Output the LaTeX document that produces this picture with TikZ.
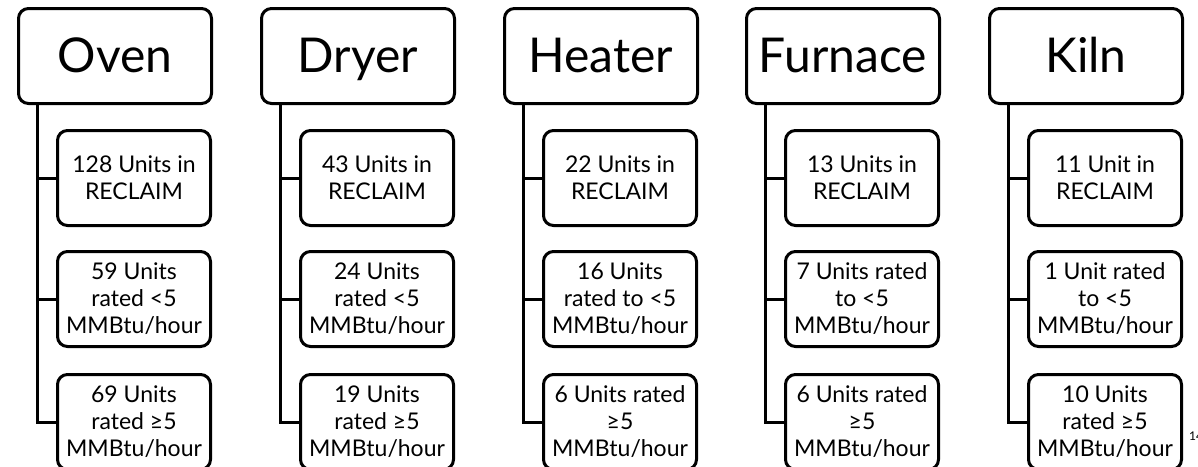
\documentclass[tikz,border=0pt]{standalone}
\usepackage{fontspec}
\setmainfont{Lato}
\tikzset{
  kind/.style={draw, line width=3pt, rounded corners=10pt, minimum width=193pt,
    minimum height=95pt, inner sep=0pt, text height=35pt, text depth=3pt,
    font=\fontsize{48}{54}\selectfont},
  count/.style={draw, line width=3pt, rounded corners=10pt, minimum width=153pt,
    minimum height=95pt, inner sep=0pt, align=center, font=\fontsize{23}{27}\selectfont},
  branch/.style={line width=3pt}
}
\begin{document}
\begin{tikzpicture}[x=1pt,y=-1pt]
  \useasboundingbox (0,0) rectangle (1198,466);
  % top row
  \node[kind] (oven)    at (115,56)  {Oven};
  \node[kind] (dryer)   at (358,56)  {Dryer};
  \node[kind] (heater)  at (601,56)  {Heater};
  \node[kind] (furnace) at (843,56)  {Furnace};
  \node[kind] (kiln)    at (1086,56) {Kiln};
  % oven
  \node[count] (oven1) at (134,178) {128 Units in\\RECLAIM};
  \node[count] (oven2) at (134,299) {59 Units\\rated <5\\MMBtu/hour};
  \node[count] (oven3) at (134,422) {69 Units\\rated ≥5\\MMBtu/hour};
  % dryer
  \node[count] (dryer1) at (377,178) {43 Units in\\RECLAIM};
  \node[count] (dryer2) at (377,299) {24 Units\\rated <5\\MMBtu/hour};
  \node[count] (dryer3) at (377,422) {19 Units\\rated ≥5\\MMBtu/hour};
  % heater
  \node[count] (heater1) at (620,178) {22 Units in\\RECLAIM};
  \node[count] (heater2) at (620,299) {16 Units\\rated to <5\\MMBtu/hour};
  \node[count] (heater3) at (620,422) {6 Units rated\\≥5\\MMBtu/hour};
  % furnace
  \node[count] (furnace1) at (862,178) {13 Units in\\RECLAIM};
  \node[count] (furnace2) at (862,299) {7 Units rated\\to <5\\MMBtu/hour};
  \node[count] (furnace3) at (862,422) {6 Units rated\\≥5\\MMBtu/hour};
  % kiln
  \node[count] (kiln1) at (1105,178) {11 Unit in\\RECLAIM};
  \node[count] (kiln2) at (1105,299) {1 Unit rated\\to <5\\MMBtu/hour};
  \node[count] (kiln3) at (1105,422) {10 Units\\rated ≥5\\MMBtu/hour};
  % page number, cut at the edge
  \node[anchor=west, inner sep=0pt, font=\fontsize{12}{14}\selectfont] (pagenum) at (1189,436) {14};
  % trunks
  \coordinate (ovenT)    at ([xshift=20pt]oven.south west);
  \coordinate (dryerT)   at ([xshift=20pt]dryer.south west);
  \coordinate (heaterT)  at ([xshift=20pt]heater.south west);
  \coordinate (furnaceT) at ([xshift=20pt]furnace.south west);
  \coordinate (kilnT)    at ([xshift=20pt]kiln.south west);
  \begin{scope}[branch]
    \draw (ovenT) |- (oven3.west);
    \draw (ovenT |- oven1.west) -- (oven1.west);
    \draw (ovenT |- oven2.west) -- (oven2.west);
    \draw (dryerT) |- (dryer3.west);
    \draw (dryerT |- dryer1.west) -- (dryer1.west);
    \draw (dryerT |- dryer2.west) -- (dryer2.west);
    \draw (heaterT) |- (heater3.west);
    \draw (heaterT |- heater1.west) -- (heater1.west);
    \draw (heaterT |- heater2.west) -- (heater2.west);
    \draw (furnaceT) |- (furnace3.west);
    \draw (furnaceT |- furnace1.west) -- (furnace1.west);
    \draw (furnaceT |- furnace2.west) -- (furnace2.west);
    \draw (kilnT) |- (kiln3.west);
    \draw (kilnT |- kiln1.west) -- (kiln1.west);
    \draw (kilnT |- kiln2.west) -- (kiln2.west);
  \end{scope}
\end{tikzpicture}
\end{document}
